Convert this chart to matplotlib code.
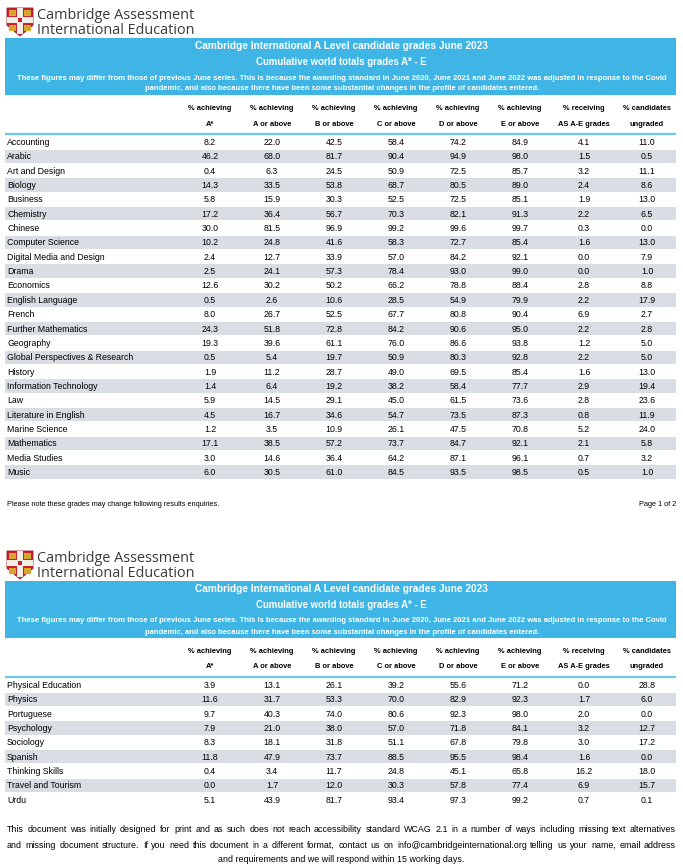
import matplotlib
matplotlib.use("Agg")
import matplotlib.pyplot as plt
from matplotlib.patches import Rectangle, Polygon

# ---- data ----
subjects = [
    "Accounting", "Arabic", "Art and Design", "Biology", "Business", "Chemistry",
    "Chinese", "Computer Science", "Digital Media and Design", "Drama", "Economics",
    "English Language", "French", "Further Mathematics", "Geography",
    "Global Perspectives & Research", "History", "Information Technology", "Law",
    "Literature in English", "Marine Science", "Mathematics", "Media Studies", "Music",
    "Physical Education", "Physics", "Portuguese", "Psychology", "Sociology",
    "Spanish", "Thinking Skills", "Travel and Tourism", "Urdu",
]
a_star = [8.2, 46.2, 0.4, 14.3, 5.8, 17.2, 30.0, 10.2, 2.4, 2.5, 12.6, 0.5, 8.0, 24.3,
          19.3, 0.5, 1.9, 1.4, 5.9, 4.5, 1.2, 17.1, 3.0, 6.0,
          3.9, 11.6, 9.7, 7.9, 8.3, 11.8, 0.4, 0.0, 5.1]
a_above = [22.0, 68.0, 6.3, 33.5, 15.9, 36.4, 81.5, 24.8, 12.7, 24.1, 30.2, 2.6, 26.7, 51.8,
           39.6, 5.4, 11.2, 6.4, 14.5, 16.7, 3.5, 38.5, 14.6, 30.5,
           13.1, 31.7, 40.3, 21.0, 18.1, 47.9, 3.4, 1.7, 43.9]
b_above = [42.5, 81.7, 24.5, 53.8, 30.3, 56.7, 96.9, 41.6, 33.9, 57.3, 50.2, 10.6, 52.5, 72.8,
           61.1, 19.7, 28.7, 19.2, 29.1, 34.6, 10.9, 57.2, 36.4, 61.0,
           26.1, 53.3, 74.0, 38.0, 31.8, 73.7, 11.7, 12.0, 81.7]
c_above = [58.4, 90.4, 50.9, 68.7, 52.5, 70.3, 99.2, 58.3, 57.0, 78.4, 66.2, 28.5, 67.7, 84.2,
           76.0, 50.9, 49.0, 38.2, 45.0, 54.7, 26.1, 73.7, 64.2, 84.5,
           39.2, 70.0, 80.6, 57.0, 51.1, 88.5, 24.8, 30.3, 93.4]
d_above = [74.2, 94.9, 72.5, 80.5, 72.5, 82.1, 99.6, 72.7, 84.2, 93.0, 78.8, 54.9, 80.8, 90.6,
           86.6, 80.3, 69.5, 58.4, 61.5, 73.5, 47.5, 84.7, 87.1, 93.5,
           55.6, 82.9, 92.3, 71.8, 67.8, 95.5, 45.1, 57.8, 97.3]
e_above = [84.9, 98.0, 85.7, 89.0, 85.1, 91.3, 99.7, 85.4, 92.1, 99.0, 88.4, 79.9, 90.4, 95.0,
           93.8, 92.8, 85.4, 77.7, 73.6, 87.3, 70.8, 92.1, 96.1, 98.5,
           71.2, 92.3, 98.0, 84.1, 79.8, 98.4, 65.8, 77.4, 99.2]
as_grades = [4.1, 1.5, 3.2, 2.4, 1.9, 2.2, 0.3, 1.6, 0.0, 0.0, 2.8, 2.2, 6.9, 2.2,
             1.2, 2.2, 1.6, 2.9, 2.8, 0.8, 5.2, 2.1, 0.7, 0.5,
             0.0, 1.7, 2.0, 3.2, 3.0, 1.6, 16.2, 6.9, 0.7]
ungraded = [11.0, 0.5, 11.1, 8.6, 13.0, 6.5, 0.0, 13.0, 7.9, 1.0, 8.8, 17.9, 2.7, 2.8,
            5.0, 5.0, 13.0, 19.4, 23.6, 11.9, 24.0, 5.8, 3.2, 1.0,
            28.8, 6.0, 0.0, 12.7, 17.2, 0.0, 18.0, 15.7, 0.1]
columns = [a_star, a_above, b_above, c_above, d_above, e_above, as_grades, ungraded]
head_top = ["% achieving"] * 6 + ["% receiving", "% candidates"]
head_bot = ["A*", "A or above", "B or above", "C or above", "D or above", "E or above",
            "AS A-E grades", "ungraded"]
page_split = 24

title = "Cambridge International A Level candidate grades June 2023"
subtitle = "Cumulative world totals grades A* - E"
note = ["These figures may differ from those of previous June series. This is because the awarding "
        "standard in June 2020, June 2021 and June 2022 was adjusted in response to the Covid",
        "pandemic, and also because there have been some substantial changes in the profile "
        "of candidates entered."]
footer = ["This document was initially designed for print and as such does not reach accessibility "
          "standard WCAG 2.1 in a number of ways including missing text alternatives",
          "and missing document structure. If you need this document in a different format, contact "
          "us on info@cambridgeinternational.org telling us your name, email address",
          "and requirements and we will respond within 15 working days."]

# ---- style ----
BLUE = "#3fb5e6"
RULE = "#6cc6ee"
SHADE = "#d9dee4"
FONT = "Liberation Sans"
col_x = [210, 272, 334, 396, 458, 520, 584, 647]
row_h = 14.35

fig = plt.figure(figsize=(6.83, 8.68), dpi=100)
ax = fig.add_axes([0, 0, 1, 1])
ax.set_xlim(0, 683)
ax.set_ylim(868, 0)
ax.axis("off")


def crest(x, y):
    w, h = 26, 28
    ax.add_patch(Polygon([(x, y), (x + w, y), (x + w, y + h * 0.62), (x + w / 2, y + h),
                          (x, y + h * 0.62)], closed=True, fc="#c8202f", ec="#9a1a24", lw=0.6))
    ax.add_patch(Rectangle((x + w / 2 - 3, y), 6, h * 0.92, fc="#f2eee6", ec="none"))
    ax.add_patch(Rectangle((x, y + 9), w, 6, fc="#f2eee6", ec="none"))
    ax.add_patch(Rectangle((x + w / 2 - 2, y + 10), 4, 4, fc="#c8202f", ec="none"))
    for qx, qy in [(x + 2, y + 2), (x + w - 9, y + 2), (x + 2, y + 17), (x + w - 9, y + 17)]:
        ax.add_patch(Rectangle((qx, qy), 7, 6, fc="#d9a531", ec="none"))


def draw_page(y0, lo, hi):
    crest(7, y0 + 8)
    ax.text(37, y0 + 19, "Cambridge Assessment", family="Open Sans", fontsize=10.4,
            color="#3a3a3a", va="baseline")
    ax.text(37, y0 + 34, "International Education", family="Open Sans", fontsize=10.4,
            color="#3a3a3a", va="baseline")
    ax.add_patch(Rectangle((5, y0 + 38), 671, 57, fc=BLUE, ec="none"))
    ax.text(341, y0 + 46, title, family=FONT, fontsize=7.3, weight="bold",
            color="white", ha="center", va="center")
    ax.text(341, y0 + 62, subtitle, family=FONT, fontsize=6.9, weight="bold",
            color="white", ha="center", va="center")
    ax.text(342, y0 + 78, note[0], family=FONT, fontsize=5.5, weight="bold",
            color="white", ha="center", va="center")
    ax.text(342, y0 + 89, note[1], family=FONT, fontsize=5.5, weight="bold",
            color="white", ha="center", va="center")
    for cx, t1, t2 in zip(col_x, head_top, head_bot):
        ax.text(cx, y0 + 108.5, t1, family=FONT, fontsize=5.4, weight="bold",
                ha="center", va="center")
        ax.text(cx, y0 + 124, t2, family=FONT, fontsize=5.4, weight="bold",
                ha="center", va="center")
    ax.plot([5, 676], [y0 + 134, y0 + 134], color=RULE, lw=1.6, solid_capstyle="butt")
    for k, i in enumerate(range(lo, hi)):
        yc = y0 + 142.5 + k * row_h
        if k % 2 == 1:
            ax.add_patch(Rectangle((5, yc - row_h / 2), 671, row_h - 1, fc=SHADE, ec="none"))
        ax.text(7, yc, subjects[i], family=FONT, fontsize=6.3, ha="left", va="center")
        for cx, col in zip(col_x, columns):
            ax.text(cx, yc, f"{col[i]:.1f}", family=FONT, fontsize=6.3,
                    ha="center", va="center")


draw_page(0, 0, page_split)
ax.text(7, 505, "Please note these grades may change following results enquiries.",
        family=FONT, fontsize=5.3, va="center")
ax.text(676, 505, "Page 1 of 2", family=FONT, fontsize=5.3, va="center", ha="right")

draw_page(543, page_split, len(subjects))

# justified footer
renderer = fig.canvas.get_renderer()
left, right = 7, 676
for j, line in enumerate(footer):
    yy = 830 + j * 15
    if j == len(footer) - 1:
        ax.text(341, yy, line, family=FONT, fontsize=6.4, ha="center", va="center")
        continue
    words = line.split()
    arts = [ax.text(0, yy, w, family=FONT, fontsize=6.4, ha="left", va="center") for w in words]
    widths = [a.get_window_extent(renderer).width for a in arts]
    gap = (right - left - sum(widths)) / (len(words) - 1)
    x = left
    for a, w in zip(arts, widths):
        a.set_x(x)
        x += w + gap

fig.savefig("out.png", dpi=100)
